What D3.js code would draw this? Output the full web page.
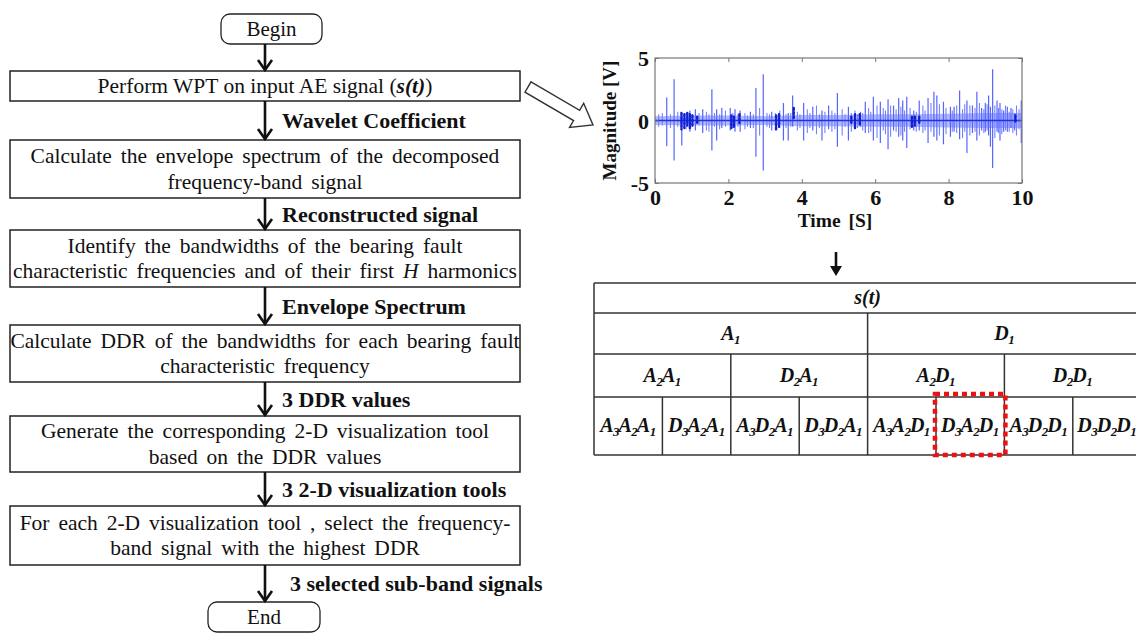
<!DOCTYPE html>
<html>
<head>
<meta charset="utf-8">
<script src="https://cdn.jsdelivr.net/npm/d3@7"></script>
<style>
  html, body { margin: 0; padding: 0; background: #fff; }
  svg { display: block; }
  svg text { font-family: "Liberation Serif", "Times New Roman", Times, serif; fill: #111; }
</style>
</head>
<body>
<svg id="chart" width="1136" height="634"></svg>
<script>
// ---- Flowchart content ----
// *...* = bold italic, _..._ = italic
const steps = [
  ["Perform WPT on input AE signal (*s(t)*)"],
  ["Calculate the envelope spectrum of the decomposed", "frequency-band signal"],
  ["Identify the bandwidths of the bearing fault", "characteristic frequencies and of their first _H_ harmonics"],
  ["Calculate DDR of the bandwidths for each bearing fault", "characteristic frequency"],
  ["Generate the corresponding 2-D visualization tool", "based on the DDR values"],
  ["For each 2-D visualization tool , select the frequency-", "band signal with the highest DDR"]
];
const flowLabels = [
  "Wavelet Coefficient",
  "Reconstructed signal",
  "Envelope Spectrum",
  "3 DDR values",
  "3 2-D visualization  tools",
  "3 selected sub-band signals"
];
const terminals = ["Begin", "End"];

// ---- AE signal (time in s, magnitude in V) ----
const timeDomain = [0, 10];
const magDomain = [-5, 5];
const timeTicks = [0, 2, 4, 6, 8, 10];
const magTicks = [-5, 0, 5];
// large bursts: [time, peak, trough]
const bursts = [
  [0.32,1.85,-2.05],[0.52,3.3,-3.2],[0.73,0.6,-2.0],[0.95,0.8,-0.9],[1.1,0.9,-0.8],[1.3,0.9,-1.0],
  [1.55,2.5,-2.4],[1.68,0.9,-1.6],[1.82,1.0,-0.6],[2.05,1.0,-0.8],[2.18,0.9,-0.9],[2.32,0.8,-0.9],
  [2.6,0.7,-0.6],[2.75,2.6,-2.9],[2.95,3.7,-4.0],[3.18,0.7,-0.8],[3.5,1.4,-1.6],[3.63,0.6,-1.6],
  [3.75,2.0,-0.5],[4.05,1.4,-1.6],[4.3,1.1,-0.8],[4.55,0.8,-1.6],[4.73,1.2,-0.7],[4.97,2.2,-2.1],
  [5.27,1.1,-1.6],[5.6,0.7,-0.5],[5.73,1.5,-1.0],[5.95,1.9,-1.6],[6.14,1.5,-1.8],[6.35,1.7,-2.3],
  [6.5,1.2,-0.8],[6.64,1.8,-1.3],[6.75,1.6,-1.6],[6.86,1.9,-2.2],[7.05,0.8,-0.8],[7.2,1.6,-0.8],
  [7.44,1.8,-1.8],[7.6,2.3,-1.3],[7.68,2.0,-1.6],[7.86,1.5,-1.9],[8.05,1.1,-1.3],[8.15,1.1,-0.9],
  [8.3,2.4,-1.5],[8.5,1.6,-2.6],[8.65,1.2,-1.0],[8.77,2.3,-1.6],[8.9,1.0,-0.8],[9.0,1.4,-0.9],
  [9.09,2.0,-1.2],[9.14,1.1,-2.1],[9.2,4.1,-3.8],[9.32,1.6,-0.9],[9.4,1.4,-1.6],[9.5,0.8,-0.9],
  [9.6,1.1,-0.9],[9.7,1.0,-0.6],[9.8,0.6,-0.8],[9.98,1.6,-1.8]
];
// smaller oscillations: [time, peak, trough]
const ripples = [
  [0.1,0.5,-0.5],[0.2,0.6,-0.4],[0.42,0.5,-0.6],[0.62,0.7,-0.5],[0.85,0.6,-0.7],[1.02,0.5,-0.5],
  [1.2,0.6,-0.4],[1.4,0.7,-0.8],[1.47,0.5,-0.9],[1.62,0.6,-0.5],[1.76,0.5,-0.7],[1.92,0.8,-0.5],
  [2.12,0.6,-0.6],[2.26,0.5,-0.5],[2.45,0.6,-0.7],[2.52,0.4,-0.5],[2.68,0.5,-0.6],[2.85,1.0,-1.2],
  [3.05,0.6,-0.5],[3.12,0.5,-0.6],[3.28,0.6,-0.8],[3.4,0.8,-0.6],[3.57,0.5,-0.6],[3.7,0.6,-0.5],
  [3.88,0.7,-0.8],[3.95,0.5,-0.6],[4.15,0.9,-1.0],[4.22,0.6,-0.6],[4.4,1.2,-1.1],[4.48,0.5,-0.6],
  [4.63,0.7,-1.0],[4.82,0.8,-0.9],[4.9,0.6,-0.7],[5.1,0.9,-1.2],[5.18,0.5,-0.5],[5.35,0.6,-0.9],
  [5.45,0.8,-0.7],[5.52,0.5,-0.6],[5.66,0.6,-0.8],[5.82,1.0,-1.0],[5.88,0.7,-0.9],[6.05,1.2,-1.4],
  [6.22,1.0,-0.8],[6.28,0.8,-1.1],[6.42,1.2,-1.3],[6.57,0.9,-0.9],[6.7,1.1,-1.2],[6.8,0.8,-0.9],
  [6.95,1.0,-0.7],[7.12,0.7,-0.9],[7.3,1.2,-1.0],[7.36,0.8,-0.8],[7.52,1.4,-0.9],[7.75,1.3,-1.2],
  [7.93,1.0,-1.1],[8.1,0.8,-0.9],[8.22,1.2,-1.0],[8.38,0.9,-1.4],[8.44,1.3,-0.9],[8.58,1.2,-1.2],
  [8.72,1.0,-0.9],[8.84,1.4,-1.2],[8.96,0.9,-1.0],[9.05,1.3,-0.8],[9.26,1.2,-1.4],[9.36,1.0,-1.0],
  [9.45,0.9,-1.1],[9.55,1.2,-0.8],[9.65,0.7,-0.9],[9.75,0.9,-1.0],[9.85,1.2,-1.2],[9.92,0.9,-0.7]
];
// background noise envelope: [time, half-width]
const noiseBand = [[0,0.35],[1,0.4],[2,0.4],[3,0.35],[4,0.45],[5,0.45],[6,0.5],[7,0.5],[8,0.55],[9,0.6],[10,0.6]];
// dense clustered samples: [time, peak, trough]
const clusters = [
  [0.72,0.6,-0.7],[0.8,0.5,-0.6],[0.88,0.6,-0.4],[0.95,0.5,-0.6],[1.02,0.4,-0.5],[1.15,0.3,-0.3],
  [2.08,0.4,-0.6],[2.15,0.3,-0.5],[2.3,0.5,-0.2],[3.3,0.4,-0.7],[3.38,0.5,-0.5],[3.78,1.0,0.2],
  [5.35,0.3,-0.3],[5.45,0.5,-0.6],[5.58,0.5,-0.4],[7.0,0.3,-0.6],[7.08,0.3,-0.4],[7.2,0.3,-0.2],
  [9.82,0.4,-0.2]
];

// ---- Wavelet packet tree (levels 0..3) ----
const wptLevels = [
  [["s(t)"]],
  [[["A","1"]], [["D","1"]]],
  [[["A","2"],["A","1"]], [["D","2"],["A","1"]], [["A","2"],["D","1"]], [["D","2"],["D","1"]]],
  [[["A","3"],["A","2"],["A","1"]], [["D","3"],["A","2"],["A","1"]], [["A","3"],["D","2"],["A","1"]], [["D","3"],["D","2"],["A","1"]],
   [["A","3"],["A","2"],["D","1"]], [["D","3"],["A","2"],["D","1"]], [["A","3"],["D","2"],["D","1"]], [["D","3"],["D","2"],["D","1"]]]
];
const selectedNode = { level: 3, index: 5 };

// ================= drawing =================
const SERIF = '"Liberation Serif", "Times New Roman", Times, serif';
const svg = d3.select("#chart");
const defs = svg.append("defs");

// ---------- flowchart ----------
const fc = svg.append("g");
const boxX0 = 10, boxX1 = 520, cx = 265;
const boxes = [
  { y0: 71, y1: 101 },
  { y0: 140, y1: 198 },
  { y0: 230, y1: 287 },
  { y0: 325, y1: 382 },
  { y0: 416, y1: 472 },
  { y0: 506, y1: 565 }
];
const beginBox = { x0: 221, x1: 322, y0: 14, y1: 44 };
const endBox = { x0: 208, x1: 320, y0: 602, y1: 632 };

function richText(sel, str) {
  const parts = str.split(/(\*[^*]+\*|_[^_]+_)/).filter(s => s.length);
  parts.forEach(p => {
    const t = sel.append("tspan");
    if (p[0] === "*") t.text(p.slice(1, -1)).attr("font-weight", "bold").attr("font-style", "italic");
    else if (p[0] === "_") t.text(p.slice(1, -1)).attr("font-style", "italic");
    else t.text(p);
  });
}

// terminals
[beginBox, endBox].forEach((b, i) => {
  fc.append("rect").attr("x", b.x0).attr("y", b.y0).attr("width", b.x1 - b.x0).attr("height", b.y1 - b.y0)
    .attr("rx", 9).attr("fill", "#fff").attr("stroke", "#222").attr("stroke-width", 1.3);
  fc.append("text").attr("x", (b.x0 + b.x1) / 2).attr("y", (b.y0 + b.y1) / 2 + 7)
    .attr("text-anchor", "middle").attr("font-family", SERIF).attr("font-size", 21).text(terminals[i]);
});

// process boxes
boxes.forEach((b, i) => {
  fc.append("rect").attr("x", boxX0).attr("y", b.y0).attr("width", boxX1 - boxX0).attr("height", b.y1 - b.y0)
    .attr("fill", "#fff").attr("stroke", "#222").attr("stroke-width", 1.5);
  const lines = steps[i];
  const lh = 25.5;
  const mid = (b.y0 + b.y1) / 2;
  lines.forEach((ln, j) => {
    const yy = mid + (j - (lines.length - 1) / 2) * lh + 7;
    const t = fc.append("text").attr("x", (boxX0 + boxX1) / 2).attr("y", yy)
      .attr("text-anchor", "middle").attr("font-family", SERIF).attr("font-size", 21.5)
      .attr("word-spacing", lines.length > 1 ? 3.5 : 0);
    richText(t, ln);
  });
});

// connector arrows with labels
const stops = [beginBox.y1].concat(boxes.map(b => b.y1));
const starts = boxes.map(b => b.y0).concat([endBox.y0]);
function downArrow(x, y0, y1) {
  fc.append("line").attr("x1", x).attr("x2", x).attr("y1", y0).attr("y2", y1 - 1)
    .attr("stroke", "#111").attr("stroke-width", 2.6);
  fc.append("path").attr("d", `M${x - 7},${y1 - 11} L${x},${y1 - 1} L${x + 7},${y1 - 11}`)
    .attr("fill", "none").attr("stroke", "#111").attr("stroke-width", 2.6);
}
stops.forEach((y0, i) => {
  downArrow(cx, y0, starts[i]);
  if (i > 0) {
    const yy = (y0 + starts[i]) / 2 + 7.5;
    fc.append("text").attr("x", i === 6 ? 290 : 282).attr("y", yy).attr("font-family", SERIF)
      .attr("font-size", 22).attr("font-weight", "bold").text(flowLabels[i - 1]);
  }
});

// hollow arrow pointing to the signal plot
(function () {
  const x0 = 528, y0 = 87, x1 = 593, y1 = 125;
  const ang = Math.atan2(y1 - y0, x1 - x0);
  const L = Math.hypot(x1 - x0, y1 - y0);
  const sw = 6, hw = 14, hl = 19;
  const pts = [[0, -sw], [L - hl, -sw], [L - hl, -hw], [L, 0], [L - hl, hw], [L - hl, sw], [0, sw]];
  const g = svg.append("g").attr("transform", `translate(${x0},${y0}) rotate(${ang * 180 / Math.PI})`);
  g.append("path").attr("d", "M" + pts.map(p => p.join(",")).join("L") + "Z")
    .attr("fill", "#fff").attr("stroke", "#333").attr("stroke-width", 1.4);
})();

// ---------- signal plot ----------
const px0 = 655, px1 = 1022, py0 = 58, py1 = 183;
const x = d3.scaleLinear().domain(timeDomain).range([px0, px1]);
const y = d3.scaleLinear().domain(magDomain).range([py1, py0]);
const plot = svg.append("g");
defs.append("clipPath").attr("id", "plotClip").append("rect")
  .attr("x", px0).attr("y", py0).attr("width", px1 - px0).attr("height", py1 - py0);
const sig = plot.append("g").attr("clip-path", "url(#plotClip)");

sig.append("path").datum(noiseBand)
  .attr("d", d3.area().x(d => x(d[0])).y0(d => y(-d[1])).y1(d => y(d[1])))
  .attr("fill", "#8f9bff").attr("opacity", 0.7);
sig.selectAll("line.rip").data(ripples).join("line").attr("class", "rip")
  .attr("x1", d => x(d[0])).attr("x2", d => x(d[0])).attr("y1", d => y(d[1])).attr("y2", d => y(d[2]))
  .attr("stroke", "#7482ff").attr("stroke-width", 1.1);
sig.selectAll("line.burst").data(bursts).join("line").attr("class", "burst")
  .attr("x1", d => x(d[0])).attr("x2", d => x(d[0])).attr("y1", d => y(d[1])).attr("y2", d => y(d[2]))
  .attr("stroke", "#5565ff").attr("stroke-width", 1.2);
sig.append("line").attr("x1", x(0)).attr("x2", x(10)).attr("y1", y(0)).attr("y2", y(0))
  .attr("stroke", "#2233dd").attr("stroke-width", 1.5);
sig.selectAll("line.clu").data(clusters).join("line").attr("class", "clu")
  .attr("x1", d => x(d[0])).attr("x2", d => x(d[0])).attr("y1", d => y(d[1])).attr("y2", d => y(d[2]))
  .attr("stroke", "#1020d0").attr("stroke-width", 2.4).attr("stroke-linecap", "round")
  .attr("stroke-dasharray", "2,2");

plot.append("rect").attr("x", px0).attr("y", py0).attr("width", px1 - px0).attr("height", py1 - py0)
  .attr("fill", "none").attr("stroke", "#777").attr("stroke-width", 1.2);

const axB = plot.append("g").attr("transform", `translate(0,${py1})`)
  .call(d3.axisBottom(x).tickValues(timeTicks).tickSize(-4).tickPadding(9));
const axT = plot.append("g").attr("transform", `translate(0,${py0})`)
  .call(d3.axisTop(x).tickValues(timeTicks).tickSize(-4).tickFormat(""));
const axL = plot.append("g").attr("transform", `translate(${px0},0)`)
  .call(d3.axisLeft(y).tickValues(magTicks).tickSize(-4).tickPadding(6).tickFormat(d => d < 0 ? "-" + (-d) : d));
const axR = plot.append("g").attr("transform", `translate(${px1},0)`)
  .call(d3.axisRight(y).tickValues(magTicks).tickSize(-4).tickFormat(""));
[axB, axT, axL, axR].forEach(a => {
  a.attr("font-family", SERIF);
  a.select(".domain").remove();
  a.selectAll(".tick line").attr("stroke", "#777");
  a.selectAll("text").attr("font-family", SERIF).attr("font-size", 22)
    .attr("font-weight", "bold").attr("fill", "#111");
});
axB.selectAll("text").attr("dy", "0.6em");
axL.selectAll("text").attr("dy", "0.36em");

plot.append("text").attr("x", 835).attr("y", 227).attr("text-anchor", "middle")
  .attr("font-family", SERIF).attr("font-size", 19.5).attr("font-weight", "bold")
  .attr("word-spacing", 3).text("Time [S]");
plot.append("text").attr("transform", `translate(616,${(py0 + py1) / 2}) rotate(-90)`)
  .attr("text-anchor", "middle").attr("font-family", SERIF).attr("font-size", 19)
  .attr("font-weight", "bold").text("Magnitude [V]");

// arrow from plot to tree
(function () {
  const ax = 836, a0 = 252, a1 = 276;
  svg.append("line").attr("x1", ax).attr("x2", ax).attr("y1", a0).attr("y2", a1 - 8)
    .attr("stroke", "#111").attr("stroke-width", 2.6);
  svg.append("path").attr("d", `M${ax - 6},${a1 - 10} L${ax + 6},${a1 - 10} L${ax},${a1} Z`).attr("fill", "#111");
})();

// ---------- wavelet packet tree table ----------
const tx0 = 594, colW = 68.4;
const rowY = [283, 313, 354, 397, 455];
const tbl = svg.append("g");
const leaves = 8;
const tableX = d3.scaleLinear().domain([0, leaves]).range([tx0, tx0 + leaves * colW]);

rowY.forEach(yy => tbl.append("line").attr("x1", tx0).attr("x2", tableX(leaves)).attr("y1", yy).attr("y2", yy)
  .attr("stroke", "#333").attr("stroke-width", 1.5));
tbl.append("line").attr("x1", tx0).attr("x2", tx0).attr("y1", rowY[0]).attr("y2", rowY[4])
  .attr("stroke", "#333").attr("stroke-width", 1.5);

wptLevels.forEach((nodes, lev) => {
  const span = leaves / nodes.length;
  const yT = rowY[lev], yB = rowY[lev + 1];
  const subShift = 4;
  nodes.forEach((node, k) => {
    if (k > 0) {
      tbl.append("line").attr("x1", tableX(k * span)).attr("x2", tableX(k * span))
        .attr("y1", yT).attr("y2", yB).attr("stroke", "#333").attr("stroke-width", 1.5);
    }
    const t = tbl.append("text").attr("x", tableX((k + 0.5) * span)).attr("y", (yT + yB) / 2 + 6)
      .attr("text-anchor", "middle").attr("font-family", SERIF).attr("font-weight", "bold")
      .attr("font-style", "italic").attr("font-size", 20);
    if (lev === 0) {
      t.text(node[0]);
    } else {
      node.forEach(([sym, sub], j) => {
        t.append("tspan").attr("dy", j === 0 ? 0 : -subShift).attr("dx", j === 0 ? 0 : -1).text(sym);
        t.append("tspan").attr("dy", subShift).attr("dx", -0.5).attr("font-size", 13).text(sub);
      });
    }
  });
});

// highlighted node
(function () {
  const span = leaves / wptLevels[selectedNode.level].length;
  const xa = tableX(selectedNode.index * span), xb = tableX((selectedNode.index + 1) * span);
  tbl.append("rect").attr("x", xa - 1).attr("y", rowY[selectedNode.level] - 3)
    .attr("width", xb - xa + 2).attr("height", rowY[selectedNode.level + 1] - rowY[selectedNode.level] + 3)
    .attr("fill", "none").attr("stroke", "#ee1111").attr("stroke-width", 4.5).attr("stroke-dasharray", "5,4");
})();
</script>
</body>
</html>
